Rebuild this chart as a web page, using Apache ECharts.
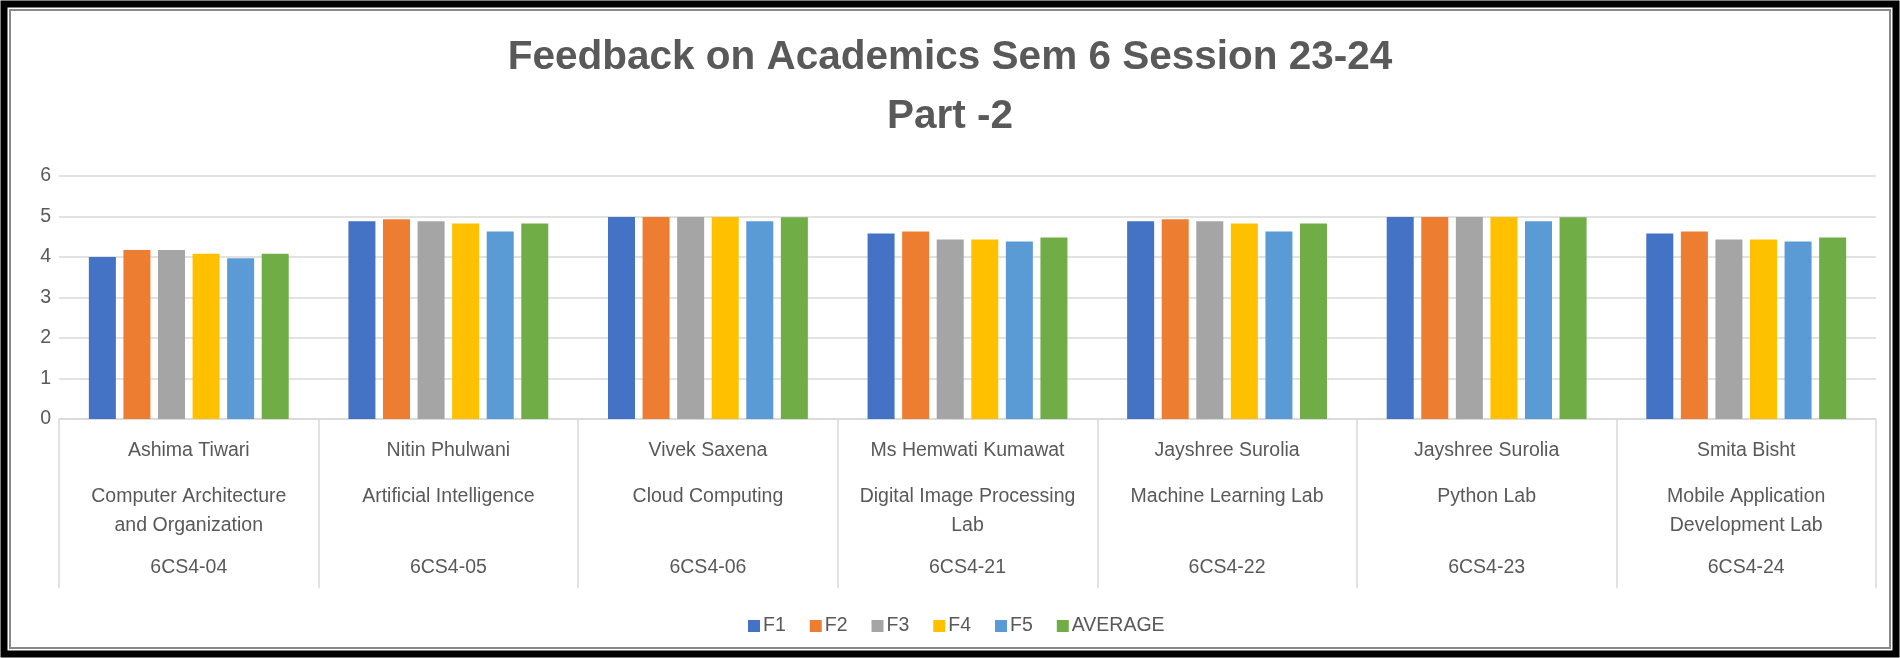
<!DOCTYPE html>
<html>
<head>
<meta charset="utf-8">
<script src="https://cdn.jsdelivr.net/npm/echarts@6/dist/echarts.min.js"></script>
<style>
  html, body { margin: 0; padding: 0; background: #fff; }
  #chart { width: 1900px; height: 658px; }
</style>
</head>
<body>
<div id="chart"></div>
<script>
// categories (three label rows of the Excel multi-level axis)
const teachers = ["Ashima Tiwari", "Nitin Phulwani", "Vivek Saxena", "Ms Hemwati Kumawat", "Jayshree Surolia", "Jayshree Surolia", "Smita Bisht"];
const subjects = ["Computer Architecture\nand Organization", "Artificial Intelligence", "Cloud Computing", "Digital Image Processing\nLab", "Machine Learning Lab", "Python Lab", "Mobile Application\nDevelopment Lab"];
const codes = ["6CS4-04", "6CS4-05", "6CS4-06", "6CS4-21", "6CS4-22", "6CS4-23", "6CS4-24"];

// feedback scores per parameter
const f1 = [4.00, 4.88, 4.99, 4.58, 4.88, 4.99, 4.58];
const f2 = [4.17, 4.93, 4.99, 4.63, 4.93, 4.99, 4.63];
const f3 = [4.17, 4.88, 4.99, 4.43, 4.88, 4.99, 4.43];
const f4 = [4.08, 4.83, 4.99, 4.43, 4.83, 4.99, 4.43];
const f5 = [3.97, 4.63, 4.88, 4.38, 4.63, 4.88, 4.38];
const average = [4.08, 4.83, 4.98, 4.48, 4.83, 4.98, 4.48];

const seriesNames = ["F1", "F2", "F3", "F4", "F5", "AVERAGE"];
const seriesData = [f1, f2, f3, f4, f5, average];
const colors = ["#4472C4", "#ED7D31", "#A5A5A5", "#FFC000", "#5B9BD5", "#70AD47"];

const FONT = "'Liberation Sans', sans-serif";
const gray = "#595959";
const lineGray = "#d9d9d9";

const chart = echarts.init(document.getElementById("chart"));

const labelBase = { interval: 0, color: gray, fontSize: 19.5, fontFamily: FONT, lineHeight: 29 };

const option = {
  animation: false,
  color: colors,
  title: {
    text: "Feedback on Academics Sem 6 Session 23-24\nPart -2",
    left: "center",
    top: 28,
    padding: 0,
    textStyle: { color: gray, fontSize: 40.5, fontWeight: "bold", fontFamily: FONT, lineHeight: 59 },
  },
  legend: {
    data: seriesNames,
    top: 616,
    left: 748,
    padding: 0,
    icon: "rect",
    itemWidth: 12,
    itemHeight: 12,
    itemGap: 24,
    textStyle: { color: gray, fontSize: 19.5, fontFamily: FONT, padding: [0, 0, 0, -2] },
  },
  grid: { left: 59, right: 24, top: 176, bottom: 239, containLabel: false },
  xAxis: [
    {
      type: "category",
      data: codes,
      axisLine: { show: true, lineStyle: { color: lineGray, width: 1.5 } },
      axisTick: { show: true, alignWithLabel: false, interval: 0, length: 169, lineStyle: { color: lineGray, width: 1.5 } },
      axisLabel: { ...labelBase, margin: 134 },
    },
    {
      type: "category",
      data: codes,
      position: "bottom",
      axisLine: { show: false },
      axisTick: { show: false },
      axisLabel: { ...labelBase, margin: 17, formatter: (v, i) => teachers[i] },
    },
    {
      type: "category",
      data: codes,
      position: "bottom",
      axisLine: { show: false },
      axisTick: { show: false },
      axisLabel: { ...labelBase, margin: 63, formatter: (v, i) => subjects[i] },
    },
  ],
  yAxis: {
    type: "value",
    min: 0,
    max: 6,
    interval: 1,
    axisLine: { show: false },
    axisTick: { show: false },
    axisLabel: { color: gray, fontSize: 19.5, fontFamily: FONT, margin: 8 },
    splitLine: { lineStyle: { color: lineGray, width: 1.5 } },
  },
  series: seriesNames.map((name, i) => ({
    name,
    type: "bar",
    data: seriesData[i],
    barCategoryGap: "23%",
    barGap: "28%",
    itemStyle: { color: colors[i] },
  })),
  graphic: [
    { type: "rect", shape: { x: 4, y: 4, width: 1892, height: 650 }, style: { fill: "none", stroke: "#000", lineWidth: 7 } },
    { type: "rect", shape: { x: 10, y: 10, width: 1880, height: 638 }, style: { fill: "none", stroke: "#888", lineWidth: 2 } },
  ],
};

chart.setOption(option);
window.addEventListener("resize", chart.resize);
</script>
</body>
</html>
